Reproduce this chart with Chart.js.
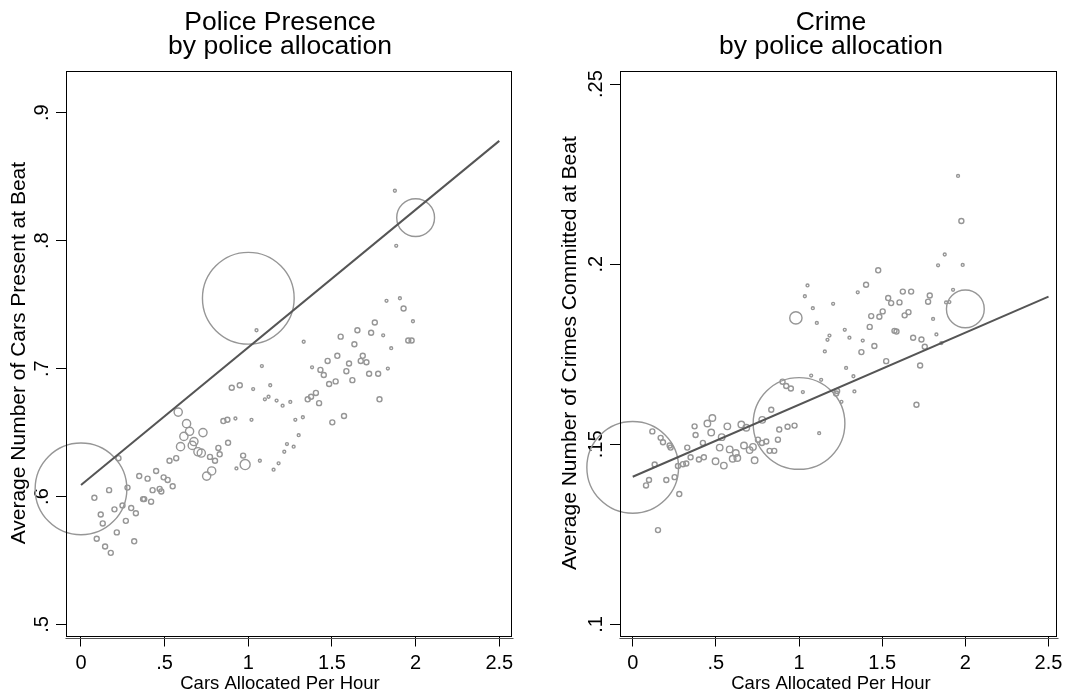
<!DOCTYPE html>
<html lang="en">
<head>
<meta charset="UTF-8">
<title>Police presence and crime by police allocation</title>
<script src="https://cdn.jsdelivr.net/npm/chart.js@4.4.1/dist/chart.umd.min.js"></script>
<style>
  html, body { margin: 0; padding: 0; background: #fff; overflow: hidden; }
  #wrap { position: relative; width: 1069px; height: 700px; overflow: hidden; }
  canvas { position: absolute; top: 0; }
  #presence { left: 0; }
  #crime { left: 540px; }
</style>
</head>
<body>
<div id="wrap">
  <canvas id="presence" width="560" height="700"></canvas>
  <canvas id="crime" width="582" height="700"></canvas>
</div>
<script>
// shared x axis
const xTicks = [0, 0.5, 1, 1.5, 2, 2.5];
const xTickLabels = ['0', '.5', '1', '1.5', '2', '2.5'];

// left panel: police presence (weights = beat size, drawn as circle area)
const presenceX = [0, 1.0, 2.0,
  1.049, 1.081, 0.901, 0.949, 1.029, 1.131, 1.099, 1.121, 1.169, 1.205, 1.251,
  0.581, 0.631, 0.649, 0.615, 0.729, 0.675, 0.665, 0.595, 0.699, 0.719,
  0.851, 0.875, 0.923, 1.019, 0.879, 0.821, 0.829, 0.771, 0.801, 0.781, 0.751,
  0.969, 0.981, 0.929, 1.069, 1.151, 1.181, 1.215, 1.231, 1.271, 1.281, 1.301,
  0.569, 0.529, 0.449, 0.398, 0.348, 0.494, 0.518, 0.548, 0.470, 0.480, 0.428,
  0.371, 0.378, 0.419, 0.328, 0.300, 0.268, 0.278, 0.224, 0.168, 0.080, 0.118,
  0.200, 0.248, 0.130, 0.214, 0.094, 0.144, 0.178, 0.318,
  1.876, 1.884, 1.826, 1.906, 1.928, 1.984, 1.976, 1.956, 1.756, 1.652, 1.734,
  1.806, 1.552, 1.331, 1.634, 1.854, 1.532, 1.684, 1.474, 1.602, 1.672, 1.706,
  1.381, 1.431, 1.451, 1.586, 1.834, 1.722, 1.776, 1.483, 1.522, 1.622, 1.355,
  1.375, 1.404, 1.423, 1.784, 1.572, 1.502, 1.326];
const presenceY = [0.606, 0.755, 0.818,
  0.730, 0.702, 0.685, 0.687, 0.684, 0.687, 0.676, 0.678, 0.675, 0.671, 0.674,
  0.666, 0.657, 0.651, 0.647, 0.650, 0.643, 0.640, 0.639, 0.635, 0.634,
  0.659, 0.660, 0.661, 0.660, 0.642, 0.638, 0.633, 0.631, 0.628, 0.620, 0.616,
  0.632, 0.625, 0.622, 0.628, 0.621, 0.626, 0.635, 0.641, 0.639, 0.660, 0.648,
  0.630, 0.628, 0.620, 0.614, 0.616, 0.615, 0.613, 0.608, 0.606, 0.604, 0.605,
  0.598, 0.598, 0.596, 0.587, 0.591, 0.581, 0.607, 0.630, 0.605, 0.599, 0.586,
  0.590, 0.593, 0.579, 0.572, 0.567, 0.561, 0.556, 0.565,
  0.839, 0.796, 0.753, 0.755, 0.747, 0.737, 0.722, 0.722, 0.736, 0.730, 0.728,
  0.726, 0.725, 0.721, 0.719, 0.716, 0.710, 0.710, 0.706, 0.704, 0.706, 0.705,
  0.701, 0.699, 0.695, 0.698, 0.700, 0.696, 0.696, 0.688, 0.690, 0.691, 0.676,
  0.678, 0.681, 0.673, 0.676, 0.663, 0.658, 0.662];
const presenceW = [1000, 1000, 170,
  1, 1, 3, 3, 1, 1, 1, 1, 1, 1, 1,
  8, 8, 8, 8, 8, 8, 8, 8, 8, 8,
  3, 3, 1, 1, 3, 3, 3, 3, 3, 8, 8,
  3, 12, 1, 1, 1, 1, 1, 1, 1, 1, 1,
  3, 3, 3, 3, 3, 3, 3, 3, 3, 3, 3,
  3, 3, 3, 3, 3, 3, 3, 3, 3, 3, 3,
  3, 3, 3, 3, 3, 3, 3, 3,
  1, 1, 1, 1, 3, 1, 3, 3, 3, 3, 3,
  1, 3, 1, 3, 1, 3, 3, 3, 3, 3, 3,
  1, 3, 3, 3, 1, 3, 3, 3, 3, 3, 3,
  3, 3, 3, 3, 3, 3, 1];
const presenceFitX = [0, 2.5];
const presenceFitY = [0.609, 0.878];
const presenceTicks = [0.5, 0.6, 0.7, 0.8, 0.9];
const presenceTickLabels = ['.5', '.6', '.7', '.8', '.9'];

// right panel: crime
const crimeX = [0, 1.0, 2.0,
  0.118, 0.168, 0.182, 0.222, 0.228, 0.132, 0.098, 0.080, 0.202, 0.252, 0.280,
  0.152, 0.272, 0.302, 0.322, 0.328, 0.348, 0.398, 0.428, 0.372, 0.378, 0.422,
  0.449, 0.479, 0.472, 0.535, 0.569, 0.523, 0.498, 0.548, 0.583, 0.601, 0.629,
  0.620, 0.653, 0.683, 0.669, 0.703, 0.723, 0.733, 0.753, 0.777, 0.803, 0.779,
  0.833, 0.823, 0.851, 0.873, 0.881, 0.931, 0.973, 0.901, 0.923, 0.951,
  1.073, 1.133, 1.023, 1.121, 1.229, 1.223, 1.255, 1.283, 1.327, 1.333,
  1.956, 1.976, 1.876, 1.836, 1.984, 1.926, 1.884, 1.904, 1.476, 1.403,
  1.051, 1.035, 1.083, 0.981, 1.107, 1.205, 1.353, 1.624, 1.674, 1.536, 1.554,
  1.604, 1.786, 1.776, 1.503, 1.434, 1.483, 1.635, 1.658, 1.806, 1.425, 1.275,
  1.183, 1.171, 1.303, 1.383, 1.574, 1.586, 1.686, 1.736, 1.826, 1.453, 1.756,
  1.856, 1.375, 1.155, 1.524, 1.728, 1.706];
const crimeY = [0.1436, 0.1558, 0.1876,
  0.1536, 0.1518, 0.1506, 0.1497, 0.1491, 0.1444, 0.1401, 0.1386, 0.1401, 0.1409, 0.1362,
  0.1262, 0.1440, 0.1445, 0.1447, 0.1491, 0.1464, 0.1458, 0.1464, 0.1550, 0.1526, 0.1504,
  0.1558, 0.1573, 0.1533, 0.1520, 0.1550, 0.1491, 0.1453, 0.1441, 0.1486, 0.1460, 0.1462,
  0.1476, 0.1555, 0.1546, 0.1497, 0.1484, 0.1493, 0.1456, 0.1513, 0.1504, 0.1508, 0.1568,
  0.1596, 0.1482, 0.1482, 0.1513, 0.1541, 0.1549, 0.1552, 0.1674, 0.1662, 0.1655,
  0.1691, 0.1679, 0.1645, 0.1531, 0.1648, 0.1641, 0.1618, 0.1712, 0.1689, 0.1647,
  0.2245, 0.2120, 0.2027, 0.1997, 0.1998, 0.1929, 0.1894, 0.1895, 0.1983, 0.1943,
  0.1941, 0.1911, 0.1878, 0.1851, 0.1837, 0.1890, 0.1922, 0.1924, 0.1924, 0.1906, 0.1892,
  0.1894, 0.1913, 0.1896, 0.1869, 0.1856, 0.1854, 0.1858, 0.1867, 0.1848, 0.1826, 0.1818,
  0.1802, 0.1790, 0.1796, 0.1788, 0.1815, 0.1813, 0.1796, 0.1791, 0.1805, 0.1773, 0.1771,
  0.1781, 0.1756, 0.1758, 0.1731, 0.1719, 0.1610];
const crimeW = [1000, 1000, 170,
  3, 3, 3, 3, 3, 3, 3, 3, 3, 3, 3,
  3, 3, 3, 3, 3, 3, 3, 3, 3, 3, 3,
  5, 5, 5, 5, 5, 5, 5, 5, 5, 5, 5,
  5, 5, 5, 5, 5, 5, 5, 3, 3, 3, 5,
  3, 3, 3, 3, 3, 3, 3, 3, 3, 3,
  1, 1, 1, 1, 3, 3, 1, 1, 1, 1,
  1, 3, 1, 1, 1, 1, 1, 1, 3, 3,
  1, 1, 1, 18, 1, 1, 1, 3, 3, 3, 3,
  3, 3, 3, 3, 3, 3, 3, 3, 1, 3, 1,
  1, 1, 1, 1, 3, 3, 3, 3, 1, 3, 3,
  1, 3, 1, 3, 3, 3];
const crimeFitX = [0, 2.5];
const crimeFitY = [0.141, 0.191];
const crimeTicks = [0.1, 0.15, 0.2, 0.25];
const crimeTickLabels = ['.1', '.15', '.2', '.25'];

const FONT = '"Liberation Sans", Arial, Helvetica, sans-serif';
Chart.defaults.font.family = FONT;
Chart.defaults.color = '#000';

function weightRadius(w) {
  return 1.45 * Math.sqrt(w);
}

// plot region frame plus the offset x axis line under it
const framePlugin = {
  id: 'frame',
  afterDraw(chart) {
    const { ctx, chartArea: a } = chart;
    const l = Math.round(a.left) + 0.5, t = Math.round(a.top) + 0.5;
    const r = Math.round(a.right) + 0.5, b = Math.round(a.bottom) + 0.5;
    ctx.save();
    ctx.strokeStyle = '#000';
    ctx.lineWidth = 1;
    ctx.strokeRect(l, t, r - l, b - t);
    ctx.strokeStyle = '#555';
    ctx.beginPath();
    ctx.moveTo(l - 1, b + 2);
    ctx.lineTo(r + 2, b + 2);
    ctx.stroke();
    ctx.restore();
  }
};

function drawPanel(id, cfg) {
  const points = cfg.xs.map((x, i) => ({ x: x, y: cfg.ys[i] }));
  const fit = cfg.fitX.map((x, i) => ({ x: x, y: cfg.fitY[i] }));

  return new Chart(document.getElementById(id), {
    type: 'scatter',
    data: {
      datasets: [
        {
          data: fit,
          showLine: true,
          borderColor: '#555555',
          borderWidth: 2,
          pointRadius: 0,
          order: 0,
          clip: false
        },
        {
          data: points,
          pointRadius: c => weightRadius(cfg.ws[c.dataIndex]),
          pointBorderColor: '#969696',
          pointBackgroundColor: 'rgba(0,0,0,0)',
          pointBorderWidth: 1.4,
          order: 1,
          clip: false
        }
      ]
    },
    options: {
      responsive: false,
      animation: false,
      events: [],
      devicePixelRatio: 1,
      layout: { padding: 0 },
      plugins: {
        legend: { display: false },
        tooltip: { enabled: false },
        title: {
          display: true,
          text: cfg.title,
          color: '#000',
          font: { size: 26.5, weight: 'normal', lineHeight: 0.92 },
          padding: { top: 10, bottom: 12 }
        },
        subtitle: {
          display: true,
          position: 'bottom',
          text: 'Cars Allocated Per Hour',
          color: '#000',
          font: { size: 18.5, lineHeight: 1 },
          padding: { top: 4, bottom: 7 }
        }
      },
      scales: {
        x: {
          type: 'linear',
          min: cfg.xMin,
          max: cfg.xMax,
          afterBuildTicks: s => { s.ticks = xTicks.map(v => ({ value: v })); },
          afterFit: s => { s.height = 35; s.paddingLeft = 0; s.paddingRight = 0; },
          ticks: {
            callback: (v, i) => xTickLabels[i],
            color: '#000',
            font: { size: 20 },
            padding: 5,
            autoSkip: false,
            maxRotation: 0,
            minRotation: 0
          },
          grid: { drawOnChartArea: false, drawTicks: true, tickLength: 11, color: '#000' },
          border: { display: false }
        },
        y: {
          type: 'linear',
          position: 'left',
          min: cfg.yMin,
          max: cfg.yMax,
          afterBuildTicks: s => { s.ticks = cfg.yTicks.map(v => ({ value: v })); },
          afterFit: s => { s.width = cfg.yWidth; s.paddingTop = 0; s.paddingBottom = 0; },
          ticks: {
            callback: (v, i) => cfg.yTickLabels[i],
            color: '#000',
            font: { size: 20 },
            padding: cfg.yLabelPad,
            crossAlign: 'center',
            autoSkip: false,
            minRotation: 90,
            maxRotation: 90
          },
          grid: { drawOnChartArea: false, drawTicks: true, tickLength: 10, color: '#000' },
          border: { display: false },
          title: {
            display: true,
            text: cfg.yTitle,
            color: '#000',
            font: { size: 21, lineHeight: 1.2 },
            padding: { top: cfg.yTitlePad, bottom: 0 }
          }
        },
        gap: {
          type: 'linear',
          position: 'right',
          afterFit: s => { s.width = cfg.padRight; s.paddingTop = 0; s.paddingBottom = 0; },
          ticks: { display: false },
          grid: { display: false },
          border: { display: false }
        }
      }
    },
    plugins: [framePlugin]
  });
}

drawPanel('presence', {
  title: ['Police Presence', 'by police allocation'],
  yTitle: 'Average Number of Cars Present at Beat',
  xs: presenceX, ys: presenceY, ws: presenceW,
  fitX: presenceFitX, fitY: presenceFitY,
  xMin: -0.0896, xMax: 2.570,
  yMin: 0.4914, yMax: 0.9328,
  yTicks: presenceTicks, yTickLabels: presenceTickLabels,
  yWidth: 66, padRight: 49, yLabelPad: 5, yTitlePad: 7
});

drawPanel('crime', {
  title: ['Crime', 'by police allocation'],
  yTitle: 'Average Number of Crimes Committed at Beat',
  xs: crimeX, ys: crimeY, ws: crimeW,
  fitX: crimeFitX, fitY: crimeFitY,
  xMin: -0.0764, xMax: 2.545,
  yMin: 0.09695, yMax: 0.25369,
  yTicks: crimeTicks, yTickLabels: crimeTickLabels,
  yWidth: 80, padRight: 66, yLabelPad: 0, yTitlePad: 18
});
</script>
</body>
</html>
